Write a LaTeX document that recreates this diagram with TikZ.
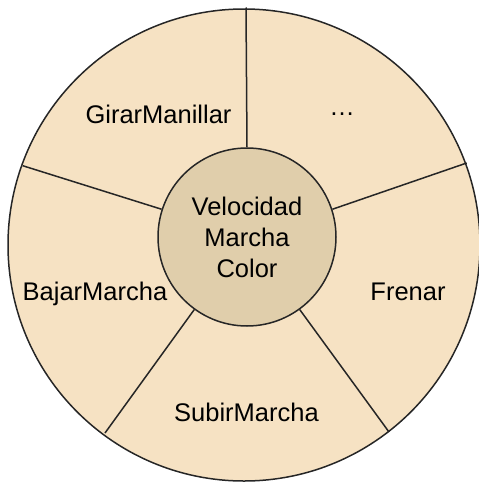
\documentclass[tikz,border=0pt]{standalone}
\usepackage{fontspec}
\setmainfont{Liberation Sans}
\definecolor{rimfill}{RGB}{246,226,195}
\definecolor{corefill}{RGB}{224,206,171}
\tikzset{
    part/.style={line width=1.5pt,draw=black!85},
    label/.style={font=\fontsize{25.5}{31}\selectfont,anchor=base},
}
\begin{document}
\begin{tikzpicture}[x=1pt,y=-1pt]
    \useasboundingbox (0,0) rectangle (479,482);
    \node[part,circle,fill=rimfill,minimum size=472pt,inner sep=0pt] (wheel) at (244,245) {};
    \node[part,circle,fill=corefill,minimum size=178pt,inner sep=0pt,align=center,
        font=\fontsize{25.5}{31}\selectfont] (core) at (247,237) {Velocidad\\Marcha\\Color};

    % ends of the dividers on the rim
    \coordinate (rim18) at (466.7,163);
    \coordinate (rim90) at (246,7.5);
    \coordinate (rim162) at (22.7,165.7);
    \coordinate (rim234) at (105,433);
    \coordinate (rim306) at (389,432);
    \foreach \a in {18,90,162,234,306}{
        \draw[part] (core.\a) -- (rim\a);
    }

    \node[label] (girar) at (158.5,123) {GirarManillar};
    \node[label] (dots) at (342,115) {…};
    \node[label] (bajar) at (95,300) {BajarMarcha};
    \node[label] (frenar) at (408,300) {Frenar};
    \node[label] (subir) at (246.5,421) {SubirMarcha};
\end{tikzpicture}
\end{document}
